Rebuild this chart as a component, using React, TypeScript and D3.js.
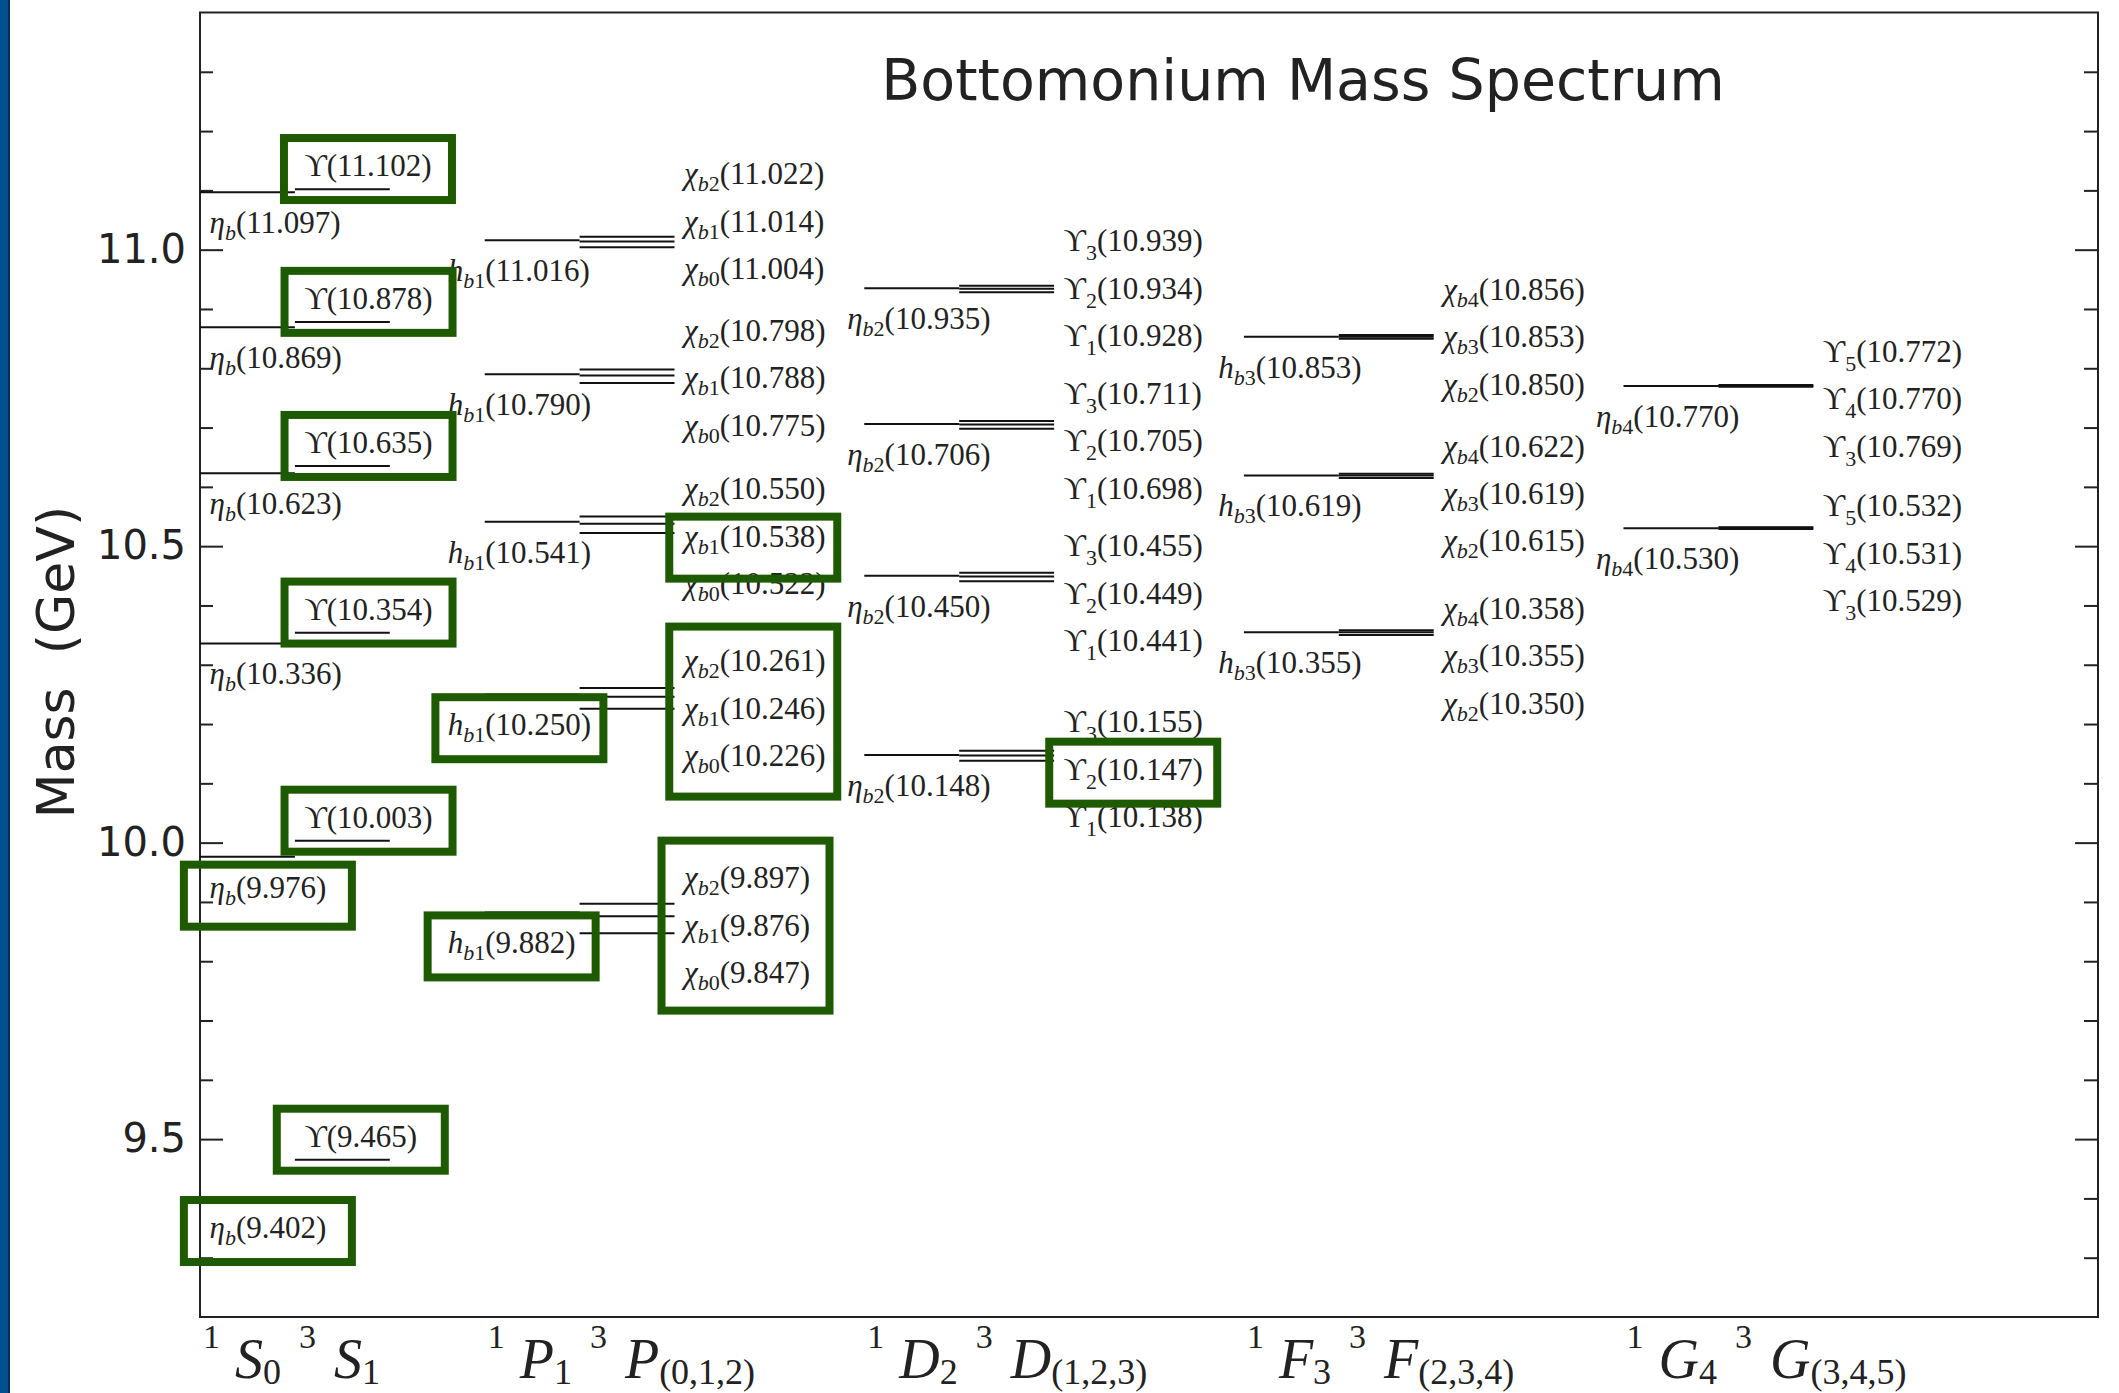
import React, { useEffect, useRef } from 'react';
import * as d3 from 'd3';

const WIDTH = 2119;
const HEIGHT = 1393;

// ---------------- data ----------------
const waves = ['S', 'P', 'D', 'F', 'G'];
const singletJ = ['0', '1', '2', '3', '4'];
const tripletJ = ['1', '(0,1,2)', '(1,2,3)', '(2,3,4)', '(3,4,5)'];

// name format: symbol|subscript
const singletNames = ['η|b', 'h|b1', 'η|b2', 'h|b3', 'η|b4'];
const tripletNames = [
  ['ϒ|'],
  ['χ|b2', 'χ|b1', 'χ|b0'],
  ['ϒ|3', 'ϒ|2', 'ϒ|1'],
  ['χ|b4', 'χ|b3', 'χ|b2'],
  ['ϒ|5', 'ϒ|4', 'ϒ|3'],
];

const sSinglet = [9.402, 9.976, 10.336, 10.623, 10.869, 11.097];
const sTriplet = [[9.465], [10.003], [10.354], [10.635], [10.878], [11.102]];
const pSinglet = [9.882, 10.25, 10.541, 10.79, 11.016];
const pTriplet = [
  [9.897, 9.876, 9.847],
  [10.261, 10.246, 10.226],
  [10.55, 10.538, 10.522],
  [10.798, 10.788, 10.775],
  [11.022, 11.014, 11.004],
];
const dSinglet = [10.148, 10.45, 10.706, 10.935];
const dTriplet = [
  [10.155, 10.147, 10.138],
  [10.455, 10.449, 10.441],
  [10.711, 10.705, 10.698],
  [10.939, 10.934, 10.928],
];
const fSinglet = [10.355, 10.619, 10.853];
const fTriplet = [
  [10.358, 10.355, 10.35],
  [10.622, 10.619, 10.615],
  [10.856, 10.853, 10.85],
];
const gSinglet = [10.53, 10.77];
const gTriplet = [
  [10.532, 10.531, 10.529],
  [10.772, 10.77, 10.769],
];

const singlets = [sSinglet, pSinglet, dSinglet, fSinglet, gSinglet];
const triplets = [sTriplet, pTriplet, dTriplet, fTriplet, gTriplet];

// annotation anchors (GeV) of the middle label of every triplet group
const tripletLabelMid = [
  [],
  [9.855, 10.221, 10.511, 10.778, 11.042],
  [10.118, 10.415, 10.672, 10.929],
  [10.309, 10.583, 10.847],
  [10.482, 10.743],
];

// highlighted states: [wave, kind, mass]  (s = singlet, t = triplet member, g = whole triplet group)
const highlighted: [string, string, number][] = [
  ['S', 't', 11.102], ['S', 't', 10.878], ['S', 't', 10.635], ['S', 't', 10.354],
  ['S', 't', 10.003], ['S', 't', 9.465],
  ['S', 's', 9.976], ['S', 's', 9.402],
  ['P', 's', 10.25], ['P', 's', 9.882],
  ['P', 't', 10.538], ['P', 'g', 10.246], ['P', 'g', 9.876],
  ['D', 't', 10.147],
];

const yMajor = [9.5, 10.0, 10.5, 11.0];
const yMinor = d3.range(93, 114).map((v) => v / 10);

// ---------------- layout ----------------
const colStart = [0, 3, 7, 11, 15];
const singletLabelDx = [0.1, -0.39, -0.18, -0.27, -0.29];
// hand-placed boxes: vertical nudge in px, by index into `highlighted`
const boxNudge: Record<number, number> = { 6: 5, 10: 8, 12: -3 };
const SERIF = "'Liberation Serif', 'DejaVu Serif', serif";
const SANS = "'DejaVu Sans', 'Noto Sans', sans-serif";
const GREEN = '#1e5b00';
const INK = '#222';
const LABEL_FS = 31;
const SUB_FS = 22;

export default function App() {
  const ref = useRef<SVGSVGElement>(null);

  useEffect(() => {
    const svg = d3.select(ref.current);
    svg.selectAll('*').remove();

    const left = 200, right = 2098, top = 12.5, bottom = 1317;
    const x = d3.scaleLinear().domain([0, 20]).range([left, right]);
    const y = d3.scaleLinear().domain([9.2, 11.4]).range([bottom, top]);

    // blue side bar
    svg.append('rect').attr('x', 0).attr('y', 0).attr('width', 8).attr('height', HEIGHT).attr('fill', '#005191');
    svg.append('rect').attr('x', 8).attr('y', 0).attr('width', 2).attr('height', HEIGHT).attr('fill', '#0c2d4d');

    // axes ticks
    const axL = d3.axisLeft(y).tickValues(yMajor).tickSize(-23).tickPadding(14).tickFormat(d3.format('.1f'));
    const gL = svg.append('g').attr('transform', `translate(${left},0)`).call(axL);
    gL.select('.domain').remove();
    gL.selectAll('line').attr('stroke', INK).attr('stroke-width', 2);
    gL.selectAll('text').attr('font-family', SANS).attr('font-size', 40).attr('fill', INK);
    const minors = yMinor.filter((v) => !yMajor.some((m) => Math.abs(m - v) < 1e-6));
    const gLm = svg.append('g').attr('transform', `translate(${left},0)`)
      .call(d3.axisLeft(y).tickValues(minors).tickSize(-13).tickFormat(() => ''));
    gLm.select('.domain').remove();
    gLm.selectAll('line').attr('stroke', INK).attr('stroke-width', 2);

    const gR = svg.append('g').attr('transform', `translate(${right},0)`)
      .call(d3.axisRight(y).tickValues(yMajor).tickSize(-23).tickFormat(() => ''));
    gR.select('.domain').remove();
    gR.selectAll('line').attr('stroke', INK).attr('stroke-width', 2);
    const gRm = svg.append('g').attr('transform', `translate(${right},0)`)
      .call(d3.axisRight(y).tickValues(minors).tickSize(-14).tickFormat(() => ''));
    gRm.select('.domain').remove();
    gRm.selectAll('line').attr('stroke', INK).attr('stroke-width', 2);

    // frame
    svg.append('rect').attr('x', left).attr('y', top).attr('width', right - left).attr('height', bottom - top)
      .attr('fill', 'none').attr('stroke', INK).attr('stroke-width', 2);

    const levels = svg.append('g');
    const labels = svg.append('g');

    type Entry = { node: SVGTextElement; cy: number };
    const registry = new Map<string, Entry>();
    const groups = new Map<string, { nodes: SVGTextElement[]; cy: number; masses: number[] }>();

    const addLabel = (xPos: number, cy: number, name: string, mass: number) => {
      const [sym, sub] = name.split('|');
      const t = labels.append('text').attr('x', xPos).attr('y', cy + 7)
        .attr('font-family', SERIF).attr('font-size', LABEL_FS).attr('fill', INK);
      t.append('tspan').attr('font-style', sym === 'ϒ' ? 'normal' : 'italic').text(sym);
      const dy = sym === 'ϒ' ? 9 : 7;
      if (sub) {
        if (sub[0] === 'b') {
          t.append('tspan').attr('font-style', 'italic').attr('font-size', SUB_FS).attr('dy', dy).text('b');
          if (sub.length > 1) t.append('tspan').attr('font-size', SUB_FS).text(sub.slice(1));
        } else {
          t.append('tspan').attr('font-size', SUB_FS).attr('dy', dy).text(sub);
        }
        t.append('tspan').attr('dy', -dy).text(`(${mass.toFixed(3)})`);
      } else {
        t.append('tspan').text(`(${mass.toFixed(3)})`);
      }
      return t.node() as SVGTextElement;
    };

    waves.forEach((w, ci) => {
      const c = colStart[ci];
      // singlets
      singlets[ci].forEach((m) => {
        levels.append('line').attr('x1', x(c)).attr('x2', x(c + 1)).attr('y1', y(m)).attr('y2', y(m))
          .attr('stroke', '#111').attr('stroke-width', 2);
        const cy = y(m - 0.057);
        const node = addLabel(x(c + singletLabelDx[ci]), cy, singletNames[ci], m);
        registry.set(`${w}|s|${m}`, { node, cy });
      });
      // triplets
      triplets[ci].forEach((grp, gi) => {
        grp.forEach((m) => {
          levels.append('line').attr('x1', x(c + 1)).attr('x2', x(c + 2)).attr('y1', y(m)).attr('y2', y(m))
            .attr('stroke', '#111').attr('stroke-width', 2);
        });
        const nodes: SVGTextElement[] = [];
        if (grp.length === 1) {
          const m = grp[0];
          const cy = y(m + 0.034);
          const node = addLabel(x(c + 1.1), cy, tripletNames[ci][0], m);
          registry.set(`${w}|t|${m}`, { node, cy });
          nodes.push(node);
          groups.set(`${w}|${gi}`, { nodes, cy, masses: grp });
        } else {
          const midY = y(tripletLabelMid[ci][gi]);
          const step = y(10) - y(10.08);
          grp.forEach((m, k) => {
            const cy = midY + (k - 1) * step;
            const node = addLabel(x(c + 2.1), cy, tripletNames[ci][k], m);
            registry.set(`${w}|t|${m}`, { node, cy });
            nodes.push(node);
          });
          groups.set(`${w}|${gi}`, { nodes, cy: midY, masses: grp });
        }
      });
    });

    // highlight boxes
    const boxes = svg.append('g');
    const SW = 8;
    const BW = 176;
    highlighted.forEach(([w, kind, m], hi) => {
      const nudge = boxNudge[hi] || 0;
      if (kind === 'g') {
        let found: { nodes: SVGTextElement[]; cy: number; masses: number[] } | undefined;
        groups.forEach((g, key) => {
          if (key.startsWith(w + '|') && g.masses.includes(m)) found = g;
        });
        if (!found) return;
        const bbs = found.nodes.map((n) => n.getBBox());
        const x0 = d3.min(bbs, (b) => b.x) as number;
        const x1 = d3.max(bbs, (b) => b.x + b.width) as number;
        const cx = (x0 + x1) / 2;
        const BH = 178;
        boxes.append('rect').attr('x', cx - BW / 2 + SW / 2).attr('y', found.cy + nudge - BH / 2 + SW / 2)
          .attr('width', BW - SW).attr('height', BH - SW)
          .attr('fill', 'none').attr('stroke', GREEN).attr('stroke-width', SW);
      } else {
        const e = registry.get(`${w}|${kind}|${m}`);
        if (!e) return;
        const b = e.node.getBBox();
        const cx = b.x + b.width / 2;
        const BH = 70;
        boxes.append('rect').attr('x', cx - BW / 2 + SW / 2).attr('y', e.cy + nudge - BH / 2 + SW / 2)
          .attr('width', BW - SW).attr('height', BH - SW)
          .attr('fill', 'none').attr('stroke', GREEN).attr('stroke-width', SW);
      }
    });

    // x tick labels (spectroscopic notation)
    waves.forEach((w, ci) => {
      const x0 = x(colStart[ci]) + 3;
      const t = svg.append('text').attr('x', x0).attr('y', bottom + 61)
        .attr('font-family', SERIF).attr('font-size', 56).attr('fill', INK);
      t.append('tspan').attr('font-size', 34).attr('dy', -30).text('1');
      t.append('tspan').attr('x', x0 + 32).attr('dy', 30).attr('font-style', 'italic').text(w);
      t.append('tspan').attr('font-size', 36).attr('dy', 6).text(singletJ[ci]);
      t.append('tspan').attr('font-size', 34).attr('dx', 18).attr('dy', -36).text('3');
      t.append('tspan').attr('dx', 18).attr('dy', 30).attr('font-style', 'italic').text(w);
      t.append('tspan').attr('font-size', 36).attr('dy', 6).text(tripletJ[ci]);
    });

    // title
    svg.append('text').attr('x', 1303).attr('y', 100).attr('text-anchor', 'middle')
      .attr('font-family', SANS).attr('font-size', 57).attr('fill', INK)
      .text('Bottomonium Mass Spectrum');

    // y label
    svg.append('text').attr('transform', `translate(74,662) rotate(-90)`).attr('text-anchor', 'middle')
      .attr('font-family', SANS).attr('font-size', 52).attr('fill', INK)
      .style('white-space', 'pre')
      .text('Mass  (GeV)');
  }, []);

  return (
    <svg
      ref={ref}
      width={WIDTH}
      height={HEIGHT}
      style={{ position: 'absolute', left: 0, top: 0, display: 'block', background: '#fff' }}
    />
  );
}
